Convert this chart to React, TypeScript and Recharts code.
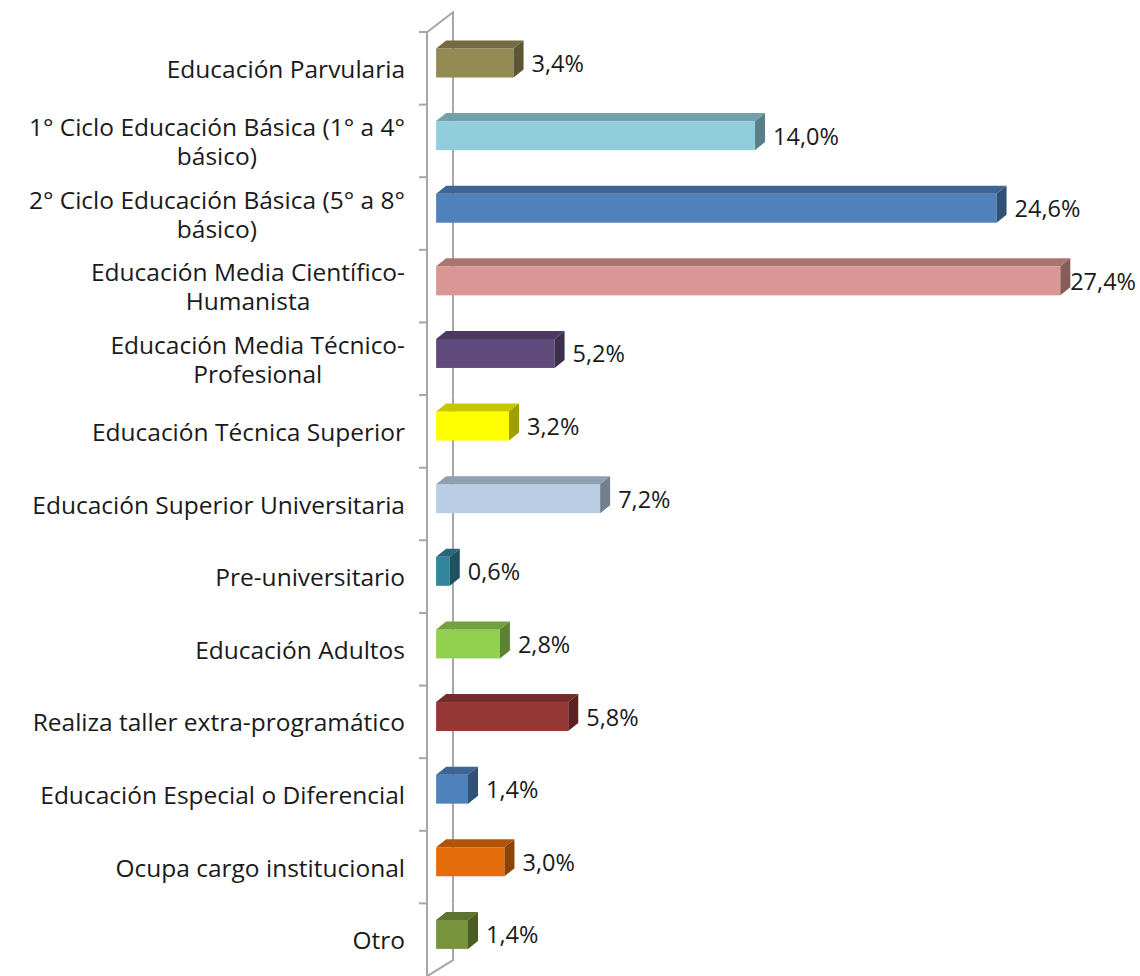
import React from 'react';
import { BarChart, Bar, XAxis, YAxis, LabelList } from 'recharts';

// niveles en los que trabaja (porcentaje)
const categories = [
    'Educación Parvularia',
    '1° Ciclo Educación Básica (1° a 4°\nbásico)',
    '2° Ciclo Educación Básica (5° a 8°\nbásico)',
    'Educación Media Científico-\nHumanista',
    'Educación Media Técnico-\nProfesional',
    'Educación Técnica Superior',
    'Educación Superior Universitaria',
    'Pre-universitario',
    'Educación Adultos',
    'Realiza taller extra-programático',
    'Educación Especial o Diferencial',
    'Ocupa cargo institucional',
    'Otro',
];
const values = [3.4, 14.0, 24.6, 27.4, 5.2, 3.2, 7.2, 0.6, 2.8, 5.8, 1.4, 3.0, 1.4];
const colors = [
    '#948A54', '#92CDDC', '#4F81BD', '#D99694', '#604A7B', '#FFFF00', '#B9CDE5',
    '#31859C', '#92D050', '#953735', '#4F81BD', '#E46C0A', '#77933C',
];

const W = 1140;
const H = 976;
const TOP = 32;
const AXIS_X = 427;
const BAND = (H - TOP) / categories.length;
const FONT = '"Open Sans", "Noto Sans", sans-serif';
const CAT_SIZE = 24.5;
const VAL_SIZE = 23.5;
const DX = 10;
const DY = 8;
const SHIFT = 5.5;
const WALL = 26;
const AXIS_COLOR = '#a6a6a6';

const data = categories.map((name, i) => ({ name, value: values[i], color: colors[i] }));

function shade(hex: string, f: number) {
    const n = parseInt(hex.slice(1), 16);
    const r = Math.round(((n >> 16) & 255) * f);
    const g = Math.round(((n >> 8) & 255) * f);
    const b = Math.round((n & 255) * f);
    return `rgb(${r},${g},${b})`;
}

let ctx: CanvasRenderingContext2D | null = null;
function textWidth(s: string, size: number) {
    if (!ctx) {
        ctx = document.createElement('canvas').getContext('2d');
    }
    if (!ctx) return s.length * size * 0.5;
    ctx.font = `${size}px ${FONT}`;
    return ctx.measureText(s).width;
}

const fmt = (v: number) => v.toFixed(1).replace('.', ',') + '%';

function Bar3D(props: any) {
    const { x, y, width, height, payload, index } = props;
    const c = payload.color;
    const t = y - SHIFT;
    // back wall segment for this band, drawn behind the bar
    const bandTop = y + height / 2 - BAND / 2;
    const bandBottom = bandTop + BAND;
    const wx = AXIS_X + WALL;
    let wall = `M${wx},${bandTop} L${wx},${bandBottom}`;
    if (index === 0) wall = `M${AXIS_X},${bandTop} L${wx},${bandTop - 20} L${wx},${bandBottom}`;
    if (index === categories.length - 1) wall = `M${wx},${bandTop} L${wx},${bandBottom - 16} L${AXIS_X},${bandBottom}`;
    return (
        <g>
            <path d={wall} fill="none" stroke={AXIS_COLOR} strokeWidth={2} />
            <rect x={x} y={t} width={width} height={height} fill={c} />
            <polygon
                points={`${x},${t} ${x + DX},${t - DY} ${x + width + DX},${t - DY} ${x + width},${t}`}
                fill={shade(c, 0.78)}
            />
            <polygon
                points={`${x + width},${t} ${x + width + DX},${t - DY} ${x + width + DX},${t + height - DY} ${x + width},${t + height}`}
                fill={shade(c, 0.62)}
            />
        </g>
    );
}

function ValueLabel(props: any) {
    const { x, y, width, height, value } = props;
    const s = fmt(Number(value));
    const lx = Math.min(x + width + 18, W - textWidth(s, VAL_SIZE) - 4);
    return (
        <text
            x={lx}
            y={y - SHIFT + height / 2}
            dominantBaseline="central"
            fontFamily={FONT}
            fontSize={VAL_SIZE}
            fill="#1a1a1a"
        >
            {s}
        </text>
    );
}

function CategoryTick(props: any) {
    const { y, payload } = props;
    const lines: string[] = String(payload.value).split('\n');
    const right = AXIS_X - 22;
    const bandTop = y - BAND / 2;
    let texts;
    if (lines.length === 1) {
        texts = (
            <text x={right} y={y} textAnchor="end" dominantBaseline="central"
                fontFamily={FONT} fontSize={CAT_SIZE} fill="#1a1a1a">
                {lines[0]}
            </text>
        );
    } else {
        const w = Math.max(...lines.map((l) => textWidth(l, CAT_SIZE)));
        const cx = right - w / 2;
        texts = lines.map((l, i) => (
            <text key={i} x={cx} y={y + (i - (lines.length - 1) / 2) * 29} textAnchor="middle"
                dominantBaseline="central" fontFamily={FONT} fontSize={CAT_SIZE} fill="#1a1a1a">
                {l}
            </text>
        ));
    }
    return (
        <g>
            <line x1={AXIS_X - 8} y1={bandTop} x2={AXIS_X} y2={bandTop} stroke={AXIS_COLOR} strokeWidth={2} />
            {texts}
        </g>
    );
}

export default function App() {
    return (
        <div style={{ position: 'absolute', left: 0, top: 0, width: W, height: H, background: '#fff' }}>
            <BarChart
                width={W}
                height={H}
                data={data}
                layout="vertical"
                margin={{ top: TOP, right: W - 1074, bottom: 0, left: 0 }}
                barCategoryGap={0}
            >
                <XAxis type="number" domain={[-0.4, 28]} hide allowDataOverflow />
                <YAxis
                    type="category"
                    dataKey="name"
                    width={AXIS_X}
                    axisLine={{ stroke: AXIS_COLOR, strokeWidth: 2 }}
                    tickLine={false}
                    tick={<CategoryTick />}
                    interval={0}
                />
                <Bar dataKey="value" barSize={29} shape={<Bar3D />} isAnimationActive={false}>
                    <LabelList dataKey="value" content={<ValueLabel />} />
                </Bar>
            </BarChart>
        </div>
    );
}
